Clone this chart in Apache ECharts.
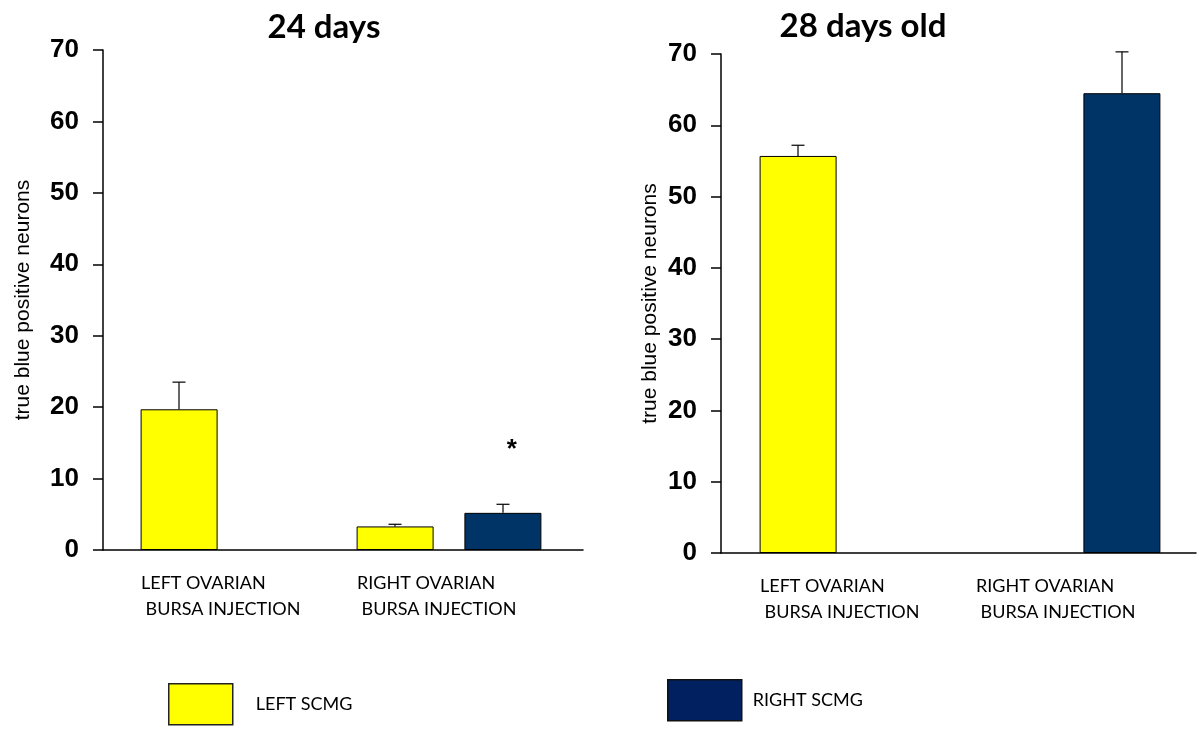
<!DOCTYPE html>
<html>
<head>
<meta charset="utf-8">
<title>true blue positive neurons</title>
<script src="https://cdn.jsdelivr.net/npm/echarts@6/dist/echarts.min.js"></script>
<style>
  html, body { margin: 0; padding: 0; background: #fff; }
  #chart { width: 1200px; height: 730px; }
</style>
</head>
<body>
<div id="chart"></div>
<script>
// categories on the x axis
const categories = ["LEFT OVARIAN\nBURSA INJECTION", "RIGHT OVARIAN\nBURSA INJECTION"];
const yTicks = [0, 10, 20, 30, 40, 50, 60, 70];

// 24 days
const left24 = [19.7, 3.3];
const left24Err = [3.8, 0.3];
const right24 = ["-", 5.2];
const right24Err = ["-", 1.2];

// 28 days old
const left28 = [55.7, "-"];
const left28Err = [1.5, "-"];
const right28 = ["-", 64.5];
const right28Err = ["-", 5.8];

const YELLOW = "#ffff00";
const NAVY = "#003366";
const LEGEND_NAVY = "#002060";

const chart = echarts.init(document.getElementById("chart"));

// error bar (upward only) drawn on top of a bar; slot -1 = left bar, +1 = right bar
function errSeries(vals, errs, slot, xi, yi) {
  const data = [];
  vals.forEach((v, i) => {
    if (v !== "-" && errs[i] !== "-") data.push([i, v, v + errs[i]]);
  });
  return {
    type: "custom",
    xAxisIndex: xi,
    yAxisIndex: yi,
    silent: true,
    z: 5,
    data: data,
    renderItem: function (params, api) {
      const band = api.size([1, 0])[0];
      const lo = api.coord([api.value(0), api.value(1)]);
      const hi = api.coord([api.value(0), api.value(2)]);
      const x = lo[0] + slot * band / 4;
      const style = { stroke: "#000", lineWidth: 1.2 };
      return {
        type: "group",
        children: [
          { type: "line", shape: { x1: x, y1: lo[1], x2: x, y2: hi[1] }, style: style },
          { type: "line", shape: { x1: x - 6.5, y1: hi[1], x2: x + 6.5, y2: hi[1] }, style: style }
        ]
      };
    }
  };
}

function outerX(grid) {
  return {
    gridIndex: grid,
    type: "category",
    data: [""],
    axisLine: { lineStyle: { color: "#000", width: 1.5 } },
    axisTick: { length: 13, lineStyle: { color: "#000", width: 1.5 } },
    axisLabel: { show: false }
  };
}

function innerX(grid) {
  return {
    gridIndex: grid,
    type: "category",
    data: categories,
    axisLine: { show: false },
    axisTick: { show: false },
    axisLabel: {
      margin: 20,
      formatter: function (v) {
        const lines = v.split("\n");
        return "{a|" + lines[0] + "}\n{a| " + lines[1] + "}";
      },
      rich: {
        a: {
          width: 184,
          align: "left",
          fontFamily: "Lato",
          fontSize: 18,
          lineHeight: 26,
          color: "#000"
        }
      }
    }
  };
}

function outerY(grid, gap) {
  return {
    gridIndex: grid,
    type: "value",
    min: 0,
    max: 70,
    interval: 10,
    name: "true blue positive neurons",
    nameLocation: "middle",
    nameGap: gap,
    nameTextStyle: { fontFamily: "Liberation Sans", fontSize: 21, color: "#000" },
    axisLine: { show: true, lineStyle: { color: "#000", width: 1.5 } },
    axisTick: { show: true, length: 10, lineStyle: { color: "#000", width: 1.5 } },
    axisLabel: {
      margin: 24,
      fontFamily: "Liberation Sans",
      fontWeight: "bold",
      fontSize: 26,
      color: "#000",
      formatter: v => (yTicks.includes(v) ? String(v) : "")
    },
    splitLine: { show: false }
  };
}

function innerY(grid) {
  return { gridIndex: grid, type: "value", min: 0, max: 70, interval: 10, show: false, splitLine: { show: false } };
}

const barBase = {
  type: "bar",
  barWidth: 77,
  barGap: "40%"
};

const titleFont = { fontFamily: "Lato", fontWeight: "bold", fontSize: 33, color: "#000" };

const option = {
  backgroundColor: "#fff",
  animation: false,
  title: [
    { text: "24 days", left: 319, textAlign: "center", top: 6, textStyle: titleFont },
    { text: "28 days old", left: 858, textAlign: "center", top: 5, textStyle: titleFont }
  ],
  legend: [
    {
      left: 163,
      top: 678,
      itemWidth: 64,
      itemHeight: 41,
      icon: "rect",
      data: [{ name: "LEFT SCMG", itemStyle: { color: YELLOW, borderColor: "#222", borderWidth: 1.5 } }],
      textStyle: { fontFamily: "Lato", fontSize: 18, color: "#000", padding: [0, 0, 0, 18] }
    },
    {
      left: 662,
      top: 674,
      itemWidth: 74,
      itemHeight: 41,
      icon: "rect",
      data: [{ name: "RIGHT SCMG", itemStyle: { color: LEGEND_NAVY, borderColor: "#111", borderWidth: 1.5 } }],
      textStyle: { fontFamily: "Lato", fontSize: 18, color: "#000", padding: [0, 0, 0, 6] }
    }
  ],
  grid: [
    { left: 103, top: 50, width: 480, height: 500 },
    { left: 125, top: 50, width: 432, height: 500 },
    { left: 721, top: 54, width: 475, height: 499 },
    { left: 744, top: 54, width: 432, height: 499 }
  ],
  xAxis: [outerX(0), innerX(1), outerX(2), innerX(3)],
  yAxis: [outerY(0, 69), innerY(1), outerY(2, 60), innerY(3)],
  series: [
    Object.assign({}, barBase, {
      name: "LEFT SCMG", xAxisIndex: 1, yAxisIndex: 1, data: left24,
      itemStyle: { color: YELLOW, borderColor: "#000", borderWidth: 1 }
    }),
    Object.assign({}, barBase, {
      name: "RIGHT SCMG", xAxisIndex: 1, yAxisIndex: 1,
      data: right24.map((v, i) => i === 1 ? {
        value: v,
        label: {
          show: true, position: "top", formatter: "*", distance: 50, offset: [9, 0],
          fontFamily: "Liberation Sans", fontWeight: "bold", fontSize: 26, color: "#000"
        }
      } : v),
      itemStyle: { color: NAVY, borderColor: "#000", borderWidth: 1 }
    }),
    errSeries(left24, left24Err, -1, 1, 1),
    errSeries(right24, right24Err, 1, 1, 1),
    Object.assign({}, barBase, {
      name: "LEFT SCMG", xAxisIndex: 3, yAxisIndex: 3, data: left28,
      itemStyle: { color: YELLOW, borderColor: "#000", borderWidth: 1 }
    }),
    Object.assign({}, barBase, {
      name: "RIGHT SCMG", xAxisIndex: 3, yAxisIndex: 3, data: right28,
      itemStyle: { color: NAVY, borderColor: "#000", borderWidth: 1 }
    }),
    errSeries(left28, left28Err, -1, 3, 3),
    errSeries(right28, right28Err, 1, 3, 3)
  ]
};

chart.setOption(option);
</script>
</body>
</html>
